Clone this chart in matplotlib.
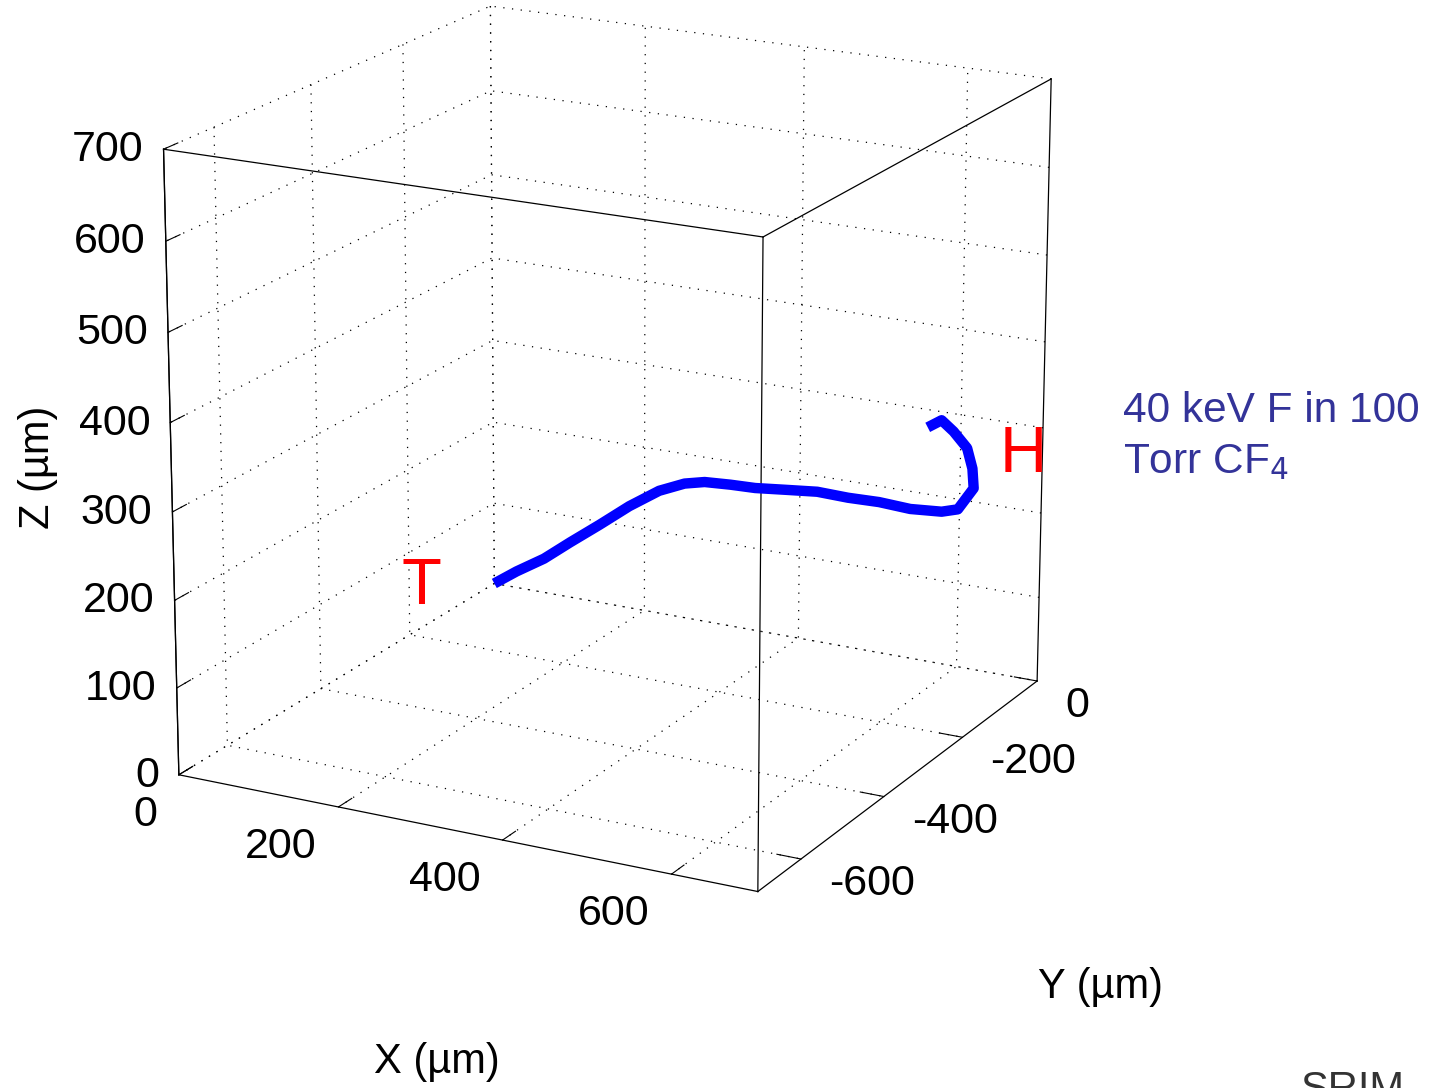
import numpy as np
import matplotlib
matplotlib.use("Agg")
import matplotlib.pyplot as plt
from matplotlib.transforms import ScaledTranslation
from mpl_toolkits.mplot3d import proj3d

plt.rcParams['font.family'] = ['Liberation Sans', 'DejaVu Sans']
plt.rcParams['axes.unicode_minus'] = False
plt.rcParams['grid.color'] = 'k'
plt.rcParams['grid.linestyle'] = (0, (1, 6))
plt.rcParams['grid.linewidth'] = 0.9

# track (um); y kept on the y = 0 plane
track_x = [0, 30, 67, 102, 141, 180, 219, 252, 278, 311, 343, 382, 422, 461,
           500, 539, 578, 598, 617, 615, 608, 591, 576, 559]
track_y = [0] * len(track_x)
track_z = [0, 20, 42, 68, 96, 125, 150, 164, 170, 172, 173, 177, 181, 180,
           181, 179, 182, 188, 216, 239, 262, 279, 290, 279]

xlim = (0, 700)
ylim = (-700, 0)
zlim = (0, 700)
xticks = [0, 200, 400, 600]
yticks = [-600, -400, -200, 0]
zticks = [0, 100, 200, 300, 400, 500, 600, 700]

fig = plt.figure(figsize=(14.35, 10.88), dpi=100)
ax = fig.add_axes([-0.0815, 0.034, 1.0, 1.12], projection='3d',
                  proj_type='persp', focal_length=0.9)
ax.view_init(elev=18, azim=-62)
ax.set_box_aspect((1, 1, 1), zoom=0.89)

ax.set_xlim(*xlim)
ax.set_ylim(*ylim)
ax.set_zlim(*zlim)
ax.set_xticks(xticks)
ax.set_yticks(yticks)
ax.set_zticks(zticks)
ax.set_xticklabels([])
ax.set_yticklabels([])
ax.set_zticklabels([])
ax.zaxis.set_ticks_position('lower')

for axis in (ax.xaxis, ax.yaxis, ax.zaxis):
    axis.set_pane_color((1, 1, 1, 0))
    axis.pane.set_edgecolor('k')
    axis.pane.set_linewidth(0.9)
    axis.line.set_color('k')
    axis.line.set_linewidth(0.9)
    axis._axinfo['grid'].update(color='k', linestyle=(0, (1, 6)), linewidth=0.9)
    axis._axinfo['tick'].update(inward_factor=0.0, outward_factor=0.5)

# the box edges in front of the panes
x0, x1 = xlim
y0, y1 = ylim
z0, z1 = zlim
edge_kw = dict(color='k', lw=0.9)
ax.plot([x1, x1], [y0, y0], [z0, z1], **edge_kw)
ax.plot([x0, x1], [y0, y0], [z1, z1], **edge_kw)
ax.plot([x1, x1], [y0, y1], [z1, z1], **edge_kw)
ax.plot([x0, x0], [y0, y0], [z0, z1], **edge_kw)
ax.plot([x1, x1], [y1, y1], [z0, z1], **edge_kw)

ax.plot(track_x, track_y, track_z, color='#0000ff', lw=7.5, solid_capstyle='butt')

ax.set_xlabel('')
ax.set_ylabel('')
ax.set_zlabel('')

# tick labels placed MATLAB-style next to their tick (offsets in pixels)
M = ax.get_proj()


def tick_label(x, y, z, s, dx, dy, ha):
    px, py, _ = proj3d.proj_transform(x, y, z, M)
    tr = ax.transData + ScaledTranslation(dx / 100, dy / 100, fig.dpi_scale_trans)
    fig.text(px, py, s, transform=tr, fontsize=31, ha=ha, va='center')


for z in zticks:
    tick_label(x0, y0, z, str(z), -20, -1, 'right')
for x in xticks:
    tick_label(x, y0, z0, str(x), -22, -40, 'right')
for y in yticks:
    tick_label(x1, y, z0, str(y), 28, -25, 'left')

fig.text(421 / 1435, 1 - 587 / 1088, 'T', color='red', fontsize=47, ha='center', va='center')
fig.text(1023 / 1435, 1 - 455 / 1088, 'H', color='red', fontsize=47, ha='center', va='center')
fig.text(1123 / 1435, 1 - 422 / 1088, '40 keV F in 100', color='#333399',
         fontsize=30.5, ha='left', va='baseline')
fig.text(1123 / 1435, 1 - 473 / 1088, 'Torr CF$_4$', color='#333399',
         fontsize=30.5, ha='left', va='baseline')
fig.text(437 / 1435, 1 - 1062 / 1088, 'X (µm)', fontsize=30, ha='center', va='center')
fig.text(1101 / 1435, 1 - 987 / 1088, 'Y (µm)', fontsize=30, ha='center', va='center')
fig.text(38 / 1435, 1 - 467 / 1088, 'Z (µm)', fontsize=30, ha='center', va='center', rotation=90)
fig.text(1300 / 1435, -0.012, 'SRIM', fontsize=30, color='#333333', ha='left', va='baseline')

fig.savefig('out.png', dpi=100)
